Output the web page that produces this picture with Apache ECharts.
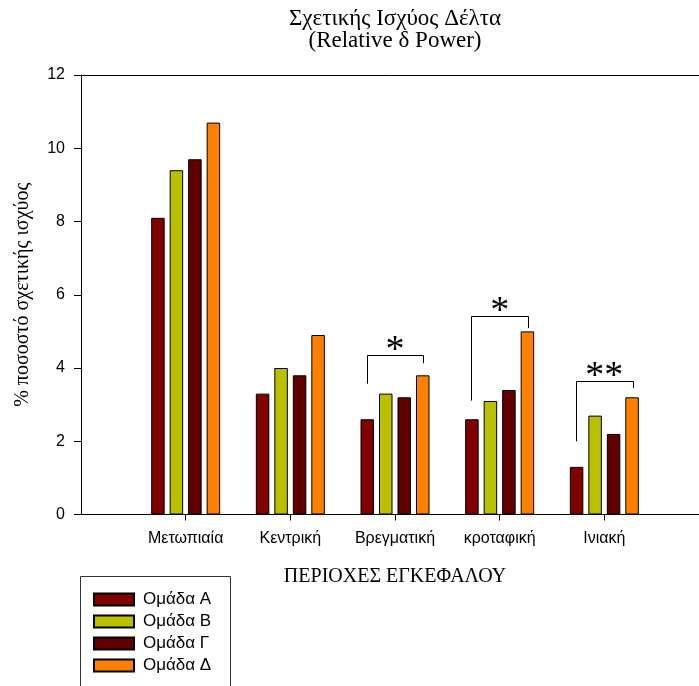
<!DOCTYPE html>
<html>
<head>
<meta charset="utf-8">
<script src="https://cdn.jsdelivr.net/npm/echarts@6/dist/echarts.min.js"></script>
<style>
html,body{margin:0;padding:0;background:#fff;}
#chart{width:699px;height:686px;}
</style>
</head>
<body>
<div id="chart"></div>
<script>
// ---- data ----
var categories = ['', 'Μετωπιαία', 'Κεντρική', 'Βρεγματική', 'κροταφική', 'Ινιακή', ''];
var seriesNames = ['Ομάδα Α', 'Ομάδα Β', 'Ομάδα Γ', 'Ομάδα Δ'];
var groupA = [null, 8.1, 3.3, 2.6, 2.6, 1.3, null];
var groupB = [null, 9.4, 4.0, 3.3, 3.1, 2.7, null];
var groupG = [null, 9.7, 3.8, 3.2, 3.4, 2.2, null];
var groupD = [null, 10.7, 4.9, 3.8, 5.0, 3.2, null];
var yTicks = [0, 2, 4, 6, 8, 10, 12];
// significance brackets
var bracketCats = ['Βρεγματική', 'κροταφική', 'Ινιακή'];
var bracketLeft = [3.57, 3.11, 2.0];
var bracketTop = [4.35, 5.41, 3.64];
var bracketRight = [4.13, 5.09, 3.45];
var bracketMarks = ['*', '*', '**'];

// ---- styles ----
var colors = ['#800000', '#b8c000', '#600000', '#ff8000'];
var SANS = 'Liberation Sans, Arial, sans-serif';
var SERIF = 'Liberation Serif, Times New Roman, serif';
var BAR_W = 13.5;
var BAR_GAP = 5 / 13.5;
var PITCH = BAR_W * (1 + BAR_GAP);

var allGroups = [groupA, groupB, groupG, groupD];
var series = allGroups.map(function (vals, i) {
  return {
    name: seriesNames[i],
    type: 'bar',
    data: vals,
    barWidth: BAR_W,
    barGap: (BAR_GAP * 100) + '%',
    itemStyle: { color: colors[i], borderColor: '#000', borderWidth: 1 }
  };
});

var bracketData = bracketCats.map(function (c, i) {
  return [categories.indexOf(c), bracketLeft[i], bracketTop[i], bracketRight[i], i];
});

series.push({
  type: 'custom',
  name: 'brackets',
  data: bracketData,
  silent: true,
  z: 5,
  renderItem: function (params, api) {
    var cat = api.value(0);
    var pL = api.coord([cat, api.value(1)]);
    var pT = api.coord([cat, api.value(2)]);
    var pR = api.coord([cat, api.value(3)]);
    var cx = pT[0];
    var off = 1.5 * PITCH + 0.5;
    var xl = Math.round(cx - off) + 0.5, xr = Math.round(cx + off) + 0.5;
    var yt = Math.round(pT[1]) + 0.5;
    var idx = api.value(4);
    return {
      type: 'group',
      children: [
        {
          type: 'polyline',
          shape: { points: [[xl, pL[1]], [xl, yt], [xr, yt], [xr, pR[1]]] },
          style: { stroke: '#000', lineWidth: 1, fill: null }
        },
        {
          type: 'text',
          style: {
            x: cx, y: pT[1] - 4,
            text: bracketMarks[idx],
            font: '38px ' + SERIF,
            fill: '#000',
            align: 'center',
            verticalAlign: 'middle'
          }
        }
      ]
    };
  }
});

var chart = echarts.init(document.getElementById('chart'), null, { renderer: 'canvas' });
chart.setOption({
  backgroundColor: '#fff',
  animation: false,
  title: {
    text: 'Σχετικής Ισχύος Δέλτα\n(Relative δ Power)',
    left: 395,
    top: 8,
    padding: 0,
    textAlign: 'center',
    textStyle: { fontFamily: SERIF, fontSize: 23, fontWeight: 'normal', color: '#000', lineHeight: 22 }
  },
  graphic: [
    {
      type: 'rect',
      silent: true,
      shape: { x: 80.5, y: 576.5, width: 150, height: 200 },
      style: { fill: null, stroke: '#333', lineWidth: 1 }
    }
  ],
  legend: {
    orient: 'vertical',
    left: 93,
    top: 591,
    padding: 0,
    itemWidth: 40,
    itemHeight: 12,
    itemGap: 5,
    icon: 'rect',
    data: seriesNames,
    textStyle: { fontFamily: SANS, fontSize: 17, color: '#000', padding: [0, 0, 0, 4] }
  },
  grid: { left: 81, top: 75, width: 628, height: 439.5, outerBoundsMode: 'none' },
  xAxis: [
    {
      type: 'category',
      data: categories,
      boundaryGap: false,
      axisLine: { lineStyle: { color: '#000', width: 1 } },
      axisTick: {
        length: 6,
        interval: function (idx, val) { return val !== ''; },
        lineStyle: { color: '#000' }
      },
      axisLabel: {
        interval: 0,
        margin: 16,
        fontFamily: SANS, fontSize: 16, color: '#000'
      },
      splitLine: { show: false },
      name: 'ΠΕΡΙΟΧΕΣ ΕΓΚΕΦΑΛΟΥ',
      nameLocation: 'middle',
      nameGap: 52,
      nameTextStyle: { fontFamily: SERIF, fontSize: 20, color: '#000' }
    },
    {
      type: 'category',
      data: categories,
      boundaryGap: false,
      position: 'top',
      axisLine: { show: true, lineStyle: { color: '#000', width: 1 } },
      axisTick: { show: false },
      axisLabel: { show: false },
      splitLine: { show: false }
    }
  ],
  yAxis: {
    type: 'value',
    min: yTicks[0],
    max: yTicks[yTicks.length - 1],
    interval: 2,
    axisLine: { show: true, lineStyle: { color: '#000', width: 1 } },
    axisTick: { show: true, length: 7, lineStyle: { color: '#000' } },
    axisLabel: { margin: 16, fontFamily: SANS, fontSize: 16, color: '#000' },
    splitLine: { show: false },
    name: '% ποσοστό σχετικής ισχύος',
    nameLocation: 'middle',
    nameRotate: 90,
    nameGap: 48,
    nameTextStyle: { fontFamily: SERIF, fontSize: 20, color: '#000' }
  },
  series: series
});
</script>
</body>
</html>
